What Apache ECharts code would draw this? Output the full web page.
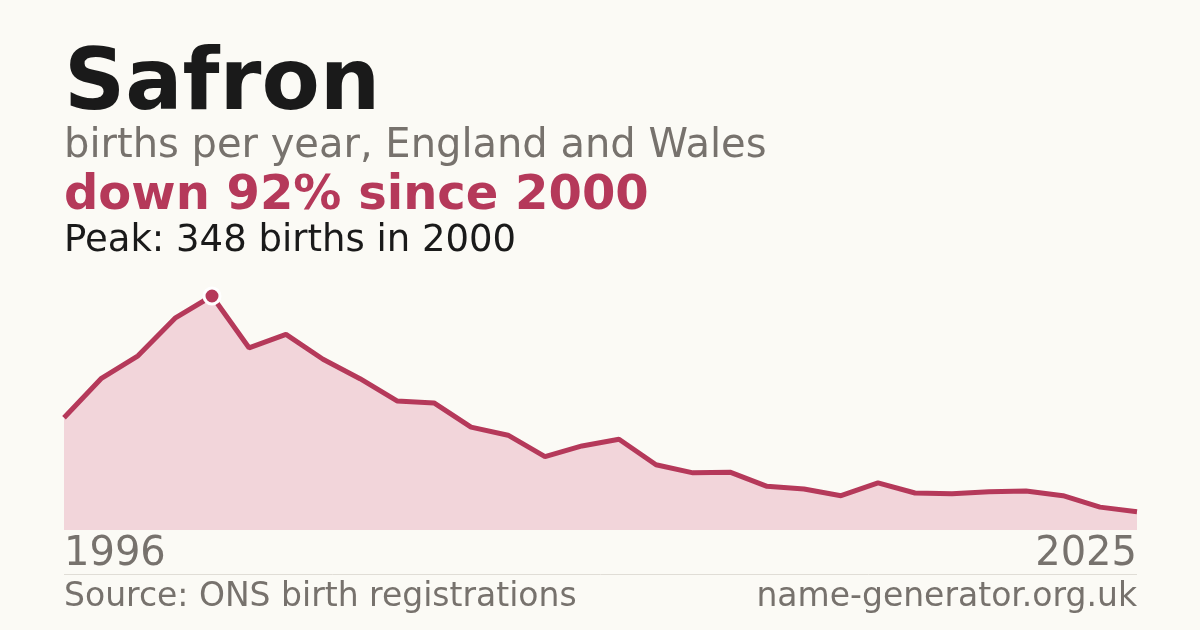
<!DOCTYPE html>
<html><head><meta charset="utf-8">
<script src="https://cdn.jsdelivr.net/npm/echarts@6/dist/echarts.min.js"></script>
<style>html,body{margin:0;padding:0;background:#fbfaf5}#c{width:1200px;height:630px}</style>
</head><body><div id="c"></div>
<script>
const years = [];
for (let y = 1996; y <= 2025; y++) years.push(String(y));
const births = [167,225,259,315,348,271,291,254,225,192,189,153,141,109,125,135,97,85,86,65,61,51,70,55,54,57,58,51,34,27];
const peakYear = '2000', peakValue = 348;
const F = 'DejaVu Sans';
const chart = echarts.init(document.getElementById('c'));
chart.setOption({
  backgroundColor: '#fbfaf5',
  animation: false,
  grid: {left: 64, right: 63, top: 296, bottom: 100},
  xAxis: {type: 'category', data: years, boundaryGap: false, show: false},
  yAxis: {type: 'value', min: 0, max: peakValue, show: false},
  series: [{
    type: 'line', data: births, symbol: 'none',
    lineStyle: {color: '#b5395a', width: 5},
    areaStyle: {color: '#f2d5da', opacity: 1},
    markPoint: {
      symbol: 'circle', symbolSize: 16,
      itemStyle: {color: '#b5395a', borderColor: '#ffffff', borderWidth: 3},
      label: {show: false},
      data: [{coord: [peakYear, peakValue]}]
    }
  }],
  graphic: [
    {type: 'text', left: 64, top: 44, style: {text: 'Safron', font: 'bold 85px ' + F, fill: '#1a1a1a'}},
    {type: 'text', left: 64, top: 127, style: {text: 'births per year, England and Wales', font: '40px ' + F, fill: '#77726d'}},
    {type: 'text', left: 64, top: 173, style: {text: 'down 92% since 2000', font: 'bold 48px ' + F, fill: '#b5395a'}},
    {type: 'text', left: 64, top: 223, style: {text: 'Peak: 348 births in 2000', font: '37px ' + F, fill: '#1a1a1a'}},
    {type: 'text', left: 64, top: 535, style: {text: years[0], font: '40px ' + F, fill: '#77726d'}},
    {type: 'text', right: 63, top: 535, style: {text: years[years.length-1], font: '40px ' + F, fill: '#77726d', textAlign: 'right'}},
    {type: 'line', shape: {x1: 64, y1: 574.5, x2: 1137, y2: 574.5}, style: {stroke: '#e0ddd6', lineWidth: 1}},
    {type: 'text', left: 64, top: 581, style: {text: 'Source: ONS birth registrations', font: '33px ' + F, fill: '#77726d'}},
    {type: 'text', right: 63, top: 581, style: {text: 'name-generator.org.uk', font: '33px ' + F, fill: '#77726d', textAlign: 'right'}}
  ]
});
</script></body></html>
